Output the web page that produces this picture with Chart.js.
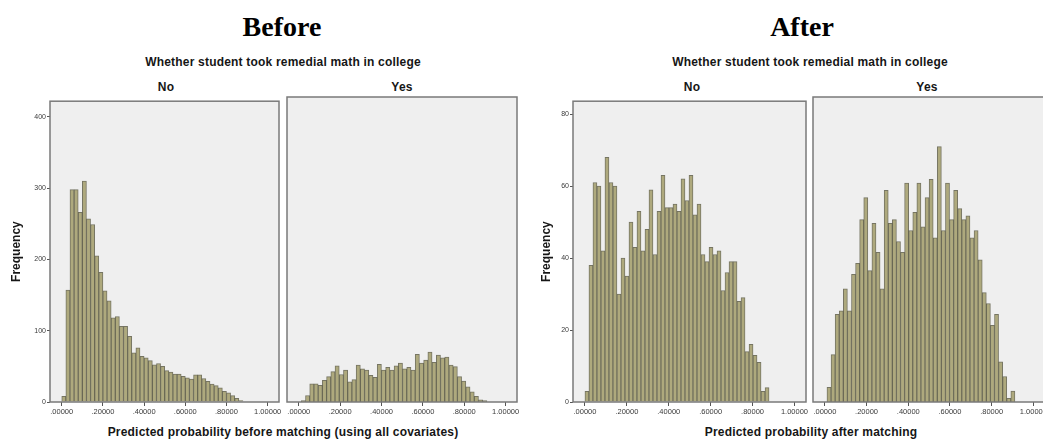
<!DOCTYPE html>
<html>
<head>
<meta charset="utf-8">
<script src="https://cdn.jsdelivr.net/npm/chart.js@4.4.0/dist/chart.umd.min.js"></script>
<style>
  body { margin: 0; width: 1043px; height: 443px; overflow: hidden; background: #fff; position: relative; font-family: "Liberation Sans", Arial, sans-serif; }
  canvas { position: absolute; }
  .lbl { position: absolute; transform: translate(-50%, -50%); white-space: nowrap; font-weight: bold; color: #161616; }
  .big { font-family: "Liberation Serif", "Times New Roman", serif; font-size: 28px; color: #000; }
  .sub { font-size: 12px; letter-spacing: 0.2px; }
  .axt { font-size: 12px; letter-spacing: 0.2px; }
</style>
</head>
<body>
<div class="lbl big" style="left:282px;top:27px">Before</div>
<div class="lbl big" style="left:802px;top:27px">After</div>
<div class="lbl sub" style="left:283px;top:62px">Whether student took remedial math in college</div>
<div class="lbl sub" style="left:810px;top:62px">Whether student took remedial math in college</div>
<div class="lbl sub" style="left:166px;top:87px">No</div>
<div class="lbl sub" style="left:402px;top:87px">Yes</div>
<div class="lbl sub" style="left:692px;top:87px">No</div>
<div class="lbl sub" style="left:927px;top:87px">Yes</div>
<div class="lbl axt" style="left:283px;top:432px">Predicted probability before matching (using all covariates)</div>
<div class="lbl axt" style="left:811px;top:432px">Predicted probability after matching</div>

<canvas id="beforeNo" width="285" height="324" style="left:0;top:96px"></canvas>
<canvas id="beforeYes" width="241" height="324" style="left:282px;top:96px"></canvas>
<canvas id="afterNo" width="289" height="324" style="left:523px;top:96px"></canvas>
<canvas id="afterYes" width="240" height="324" style="left:808px;top:96px"></canvas>

<script>
// histogram counts
const beforeNoCounts = [8, 157, 298, 298, 266, 310, 257, 249, 205, 182, 156, 142, 118, 120, 106, 106, 92, 69, 76, 64,
  62, 58, 52, 54, 50, 44, 42, 39, 39, 36, 34, 32, 38, 38, 33, 29, 25, 23, 20, 15, 13, 9, 5, 2];
const beforeYesCounts = [2, 9, 25, 25, 23, 30, 35, 42, 50, 38, 44, 28, 31, 51, 46, 44, 37, 34, 52, 44,
  48, 44, 50, 54, 46, 48, 44, 66, 54, 58, 69, 55, 65, 61, 62, 51, 49, 35, 29, 21, 14, 8, 3, 2];
const afterNoCounts = [3, 38, 61, 60, 42, 68, 61, 60, 30, 40, 35, 50, 43, 53, 42, 48, 59, 41, 53, 63,
  54, 54, 55, 53, 62, 56, 63, 52, 55, 41, 39, 43, 41, 42, 31, 36, 39, 39, 28, 29, 14, 16, 13, 11, 3, 4];
const afterYesCounts = [4, 13, 24, 25, 31, 25, 35, 38, 50, 56, 36, 49, 41, 31, 58, 49, 50, 44, 41, 60,
  47, 52, 60, 48, 56, 61, 45, 70, 47, 60, 50, 58, 53, 50, 51, 45, 47, 39, 30, 27, 21, 24, 11, 7, 1, 3];

// bins (start of first bin, bin width)
const beforeNoBins = [0, 0.02];
const beforeYesBins = [0.012, 0.0204];
const afterNoBins = [0, 0.0191];
const afterYesBins = [0.01, 0.0196];

const xTicks = [0, 0.2, 0.4, 0.6, 0.8, 1.0];
const beforeYTicks = [0, 100, 200, 300, 400];
const afterYTicks = [0, 20, 40, 60, 80];

const framePlugin = {
  id: "frame",
  beforeDraw(chart) {
    const a = chart.chartArea, ctx = chart.ctx;
    ctx.save();
    ctx.fillStyle = "#efefef";
    ctx.fillRect(a.left, a.top, a.right - a.left, a.bottom - a.top);
    ctx.restore();
  },
  afterDatasetsDraw(chart) {
    const a = chart.chartArea, ctx = chart.ctx;
    ctx.save();
    ctx.strokeStyle = "#7a7a7a";
    ctx.lineWidth = 1.5;
    ctx.strokeRect(a.left, a.top, a.right - a.left, a.bottom - a.top);
    ctx.restore();
  }
};

function fmtX(v) {
  const s = v.toFixed(5);
  return v < 1 ? s.replace(/^0/, "") : s;
}

function makeHist(id, counts, bins, yMax, yTicks, showY, pad, yWidth) {
  const data = counts.map((c, i) => ({ x: bins[0] + (i + 0.5) * bins[1], y: c }));
  new Chart(document.getElementById(id), {
    type: "bar",
    data: {
      datasets: [{
        data: data,
        backgroundColor: "#aea97d",
        borderColor: "rgba(78,76,52,0.75)",
        borderWidth: 1,
        barPercentage: 1,
        categoryPercentage: 1
      }]
    },
    options: {
      responsive: false,
      animation: false,
      events: [],
      layout: { padding: pad },
      plugins: { legend: { display: false }, tooltip: { enabled: false } },
      scales: {
        x: {
          type: "linear",
          offset: false,
          min: -0.057,
          max: 1.055,
          afterBuildTicks: (s) => { s.ticks = xTicks.map((v) => ({ value: v })); },
          afterFit: (s) => { s.height = 18; },
          grid: { drawOnChartArea: false, drawTicks: true, tickLength: 4, color: "#555", offset: false },
          border: { display: false },
          ticks: { callback: fmtX, padding: 1, maxRotation: 0, autoSkip: false, color: "#3a3a3a", font: { family: "Liberation Sans", size: 7.5 } }
        },
        y: {
          display: showY,
          min: 0,
          max: yMax,
          afterBuildTicks: (s) => { s.ticks = yTicks.map((v) => ({ value: v })); },
          afterFit: (s) => { s.width = yWidth; },
          grid: { drawOnChartArea: false, drawTicks: true, tickLength: 3, color: "#555" },
          border: { display: false },
          ticks: { padding: 1, color: "#3a3a3a", font: { family: "Liberation Sans", size: 7 } },
          title: { display: true, text: "Frequency", color: "#161616", padding: 2, font: { family: "Liberation Sans", size: 12, weight: "bold" } }
        }
      }
    },
    plugins: [framePlugin]
  });
}

makeHist("beforeNo", beforeNoCounts, beforeNoBins, 422, beforeYTicks, true, { top: 1, right: 6, left: 7, bottom: 0 }, 43);
makeHist("beforeYes", beforeYesCounts, beforeYesBins, 422, beforeYTicks, false, { top: 1, right: 6, left: 5, bottom: 0 }, 0);
makeHist("afterNo", afterNoCounts, afterNoBins, 83.6, afterYTicks, true, { top: 1, right: 6, left: 14, bottom: 0 }, 36);
makeHist("afterYes", afterYesCounts, afterYesBins, 83.6, afterYTicks, false, { top: 1, right: 2, left: 5, bottom: 0 }, 0);
</script>
</body>
</html>
